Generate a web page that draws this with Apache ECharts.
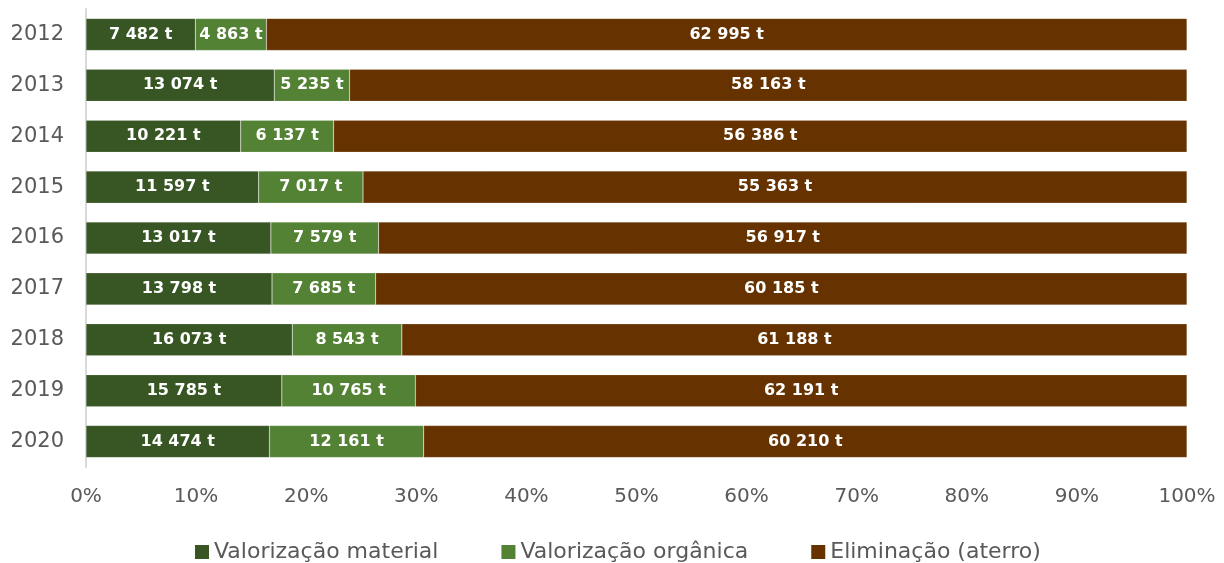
<!DOCTYPE html>
<html><head><meta charset="utf-8">
<script src="https://cdn.jsdelivr.net/npm/echarts@6/dist/echarts.min.js"></script>
<style>html,body{margin:0;padding:0;background:#fff}#c{width:1224px;height:563px}</style>
</head><body><div id="c"></div>
<script>
const years = ['2012','2013','2014','2015','2016','2017','2018','2019','2020'];
const material = [7482,13074,10221,11597,13017,13798,16073,15785,14474];
const organica = [4863,5235,6137,7017,7579,7685,8543,10765,12161];
const aterro = [62995,58163,56386,55363,56917,60185,61188,62191,60210];
const seriesNames = ['Valorização material','Valorização orgânica','Eliminação (aterro)'];
const colors = ['#375623','#548235','#663300'];
const xTicks = [0,10,20,30,40,50,60,70,80,90,100];

const raw = [material, organica, aterro];
const totals = years.map((_, i) => material[i] + organica[i] + aterro[i]);
const fmt = v => String(v).replace(/\B(?=(\d{3})+(?!\d))/g, ' ') + ' t';
const font = '"DejaVu Sans", sans-serif';

const series = raw.map((arr, k) => ({
  name: seriesNames[k],
  type: 'bar',
  stack: 'total',
  barWidth: '63%',
  itemStyle: { color: colors[k], borderColor: 'rgba(255,255,255,0.35)', borderWidth: 0.5 },
  label: {
    show: true, position: 'inside', color: '#fff', fontWeight: 'bold',
    fontSize: 16, fontFamily: font,
    formatter: p => fmt(arr[p.dataIndex])
  },
  data: arr.map((v, i) => v / totals[i] * 100)
}));

const chart = echarts.init(document.getElementById('c'));
chart.setOption({
  animation: false,
  color: colors,
  grid: { left: 86, right: 37, top: 9, height: 458 },
  legend: {
    top: 536, left: 190, itemWidth: 14, itemHeight: 14, itemGap: 63, itemStyle: { borderWidth: 0 },
    icon: 'rect',
    textStyle: { color: '#595959', fontSize: 22, fontFamily: font }
  },
  xAxis: {
    type: 'value', min: 0, max: 100, interval: 10,
    axisLine: { show: false }, axisTick: { show: false }, splitLine: { show: false },
    axisLabel: { color: '#595959', fontSize: 20, fontFamily: font, margin: 20,
      formatter: v => xTicks.includes(v) ? v + '%' : '' }
  },
  yAxis: {
    type: 'category', data: years, inverse: true,
    axisLine: { show: true, lineStyle: { color: '#d9d9d9', width: 2 } },
    axisTick: { show: false },
    axisLabel: { color: '#595959', fontSize: 21, fontFamily: font, margin: 22 }
  },
  series
});
</script></body></html>
